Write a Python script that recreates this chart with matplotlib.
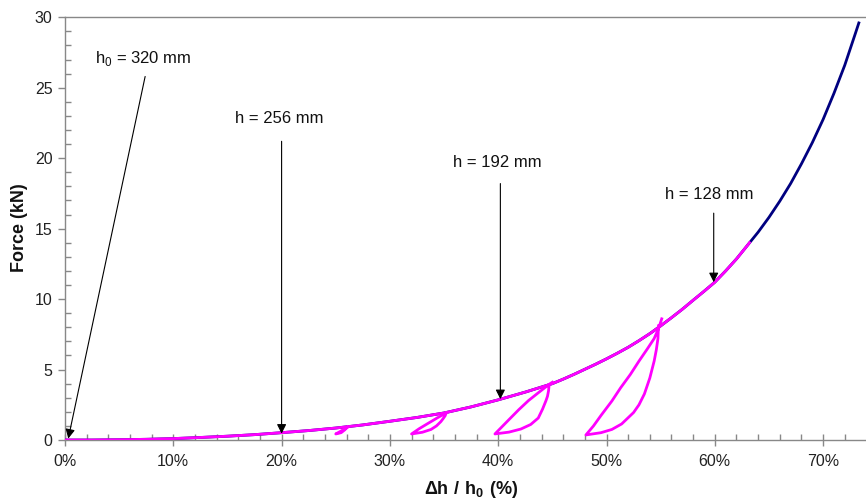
import matplotlib
matplotlib.use("Agg")
import matplotlib.pyplot as plt
from matplotlib.ticker import MultipleLocator, FuncFormatter

plt.rcParams['font.family'] = ['Liberation Sans', 'DejaVu Sans']
plt.rcParams['mathtext.fontset'] = 'custom'
plt.rcParams['mathtext.rm'] = 'Liberation Sans'
plt.rcParams['mathtext.bf'] = 'Liberation Sans:bold'

# Main loading curve (strain %, force kN)
main_strain = [0, 2.5, 5, 7.5, 10, 12.5, 15, 17.5, 20, 22.5, 25, 27.5, 30, 32.5, 35,
               37.5, 40, 42.5, 45, 46, 47, 48, 49, 50, 51, 52, 53, 54, 55, 56, 57, 58,
               59, 60, 61, 62, 63, 64, 65, 66, 67, 68, 69, 70, 71, 72, 73, 73.3]
main_force = [0, 0.0, 0.02, 0.05, 0.1, 0.18, 0.27, 0.38, 0.52, 0.67, 0.85, 1.07, 1.33,
              1.6, 1.92, 2.35, 2.85, 3.4, 4.0, 4.32, 4.66, 5.02, 5.38, 5.76, 6.16, 6.58,
              7.05, 7.55, 8.1, 8.68, 9.28, 9.92, 10.55, 11.2, 12.0, 12.85, 13.8, 14.75,
              15.8, 16.95, 18.2, 19.6, 21.1, 22.75, 24.6, 26.6, 28.9, 29.6]

# Cyclic test (magenta): envelope up to end, plus unload/reload loops
cyc_end_strain = 63.2
cyc_end_force = 14.0

loop1_strain = [26.1, 25.8, 25.5, 25.0, 25.4, 25.8, 26.1]
loop1_force = [0.92, 0.7, 0.52, 0.43, 0.6, 0.78, 0.92]

loop2_strain = [35.2, 35.1, 34.9, 34.7, 34.3, 33.8, 33.0, 32.0, 32.7, 33.5, 34.4, 35.2]
loop2_force = [1.92, 1.72, 1.5, 1.3, 1.0, 0.75, 0.55, 0.43, 0.8, 1.17, 1.58, 1.92]

loop3_strain = [44.7, 44.65, 44.55, 44.4, 44.1, 43.7, 43.0, 42.1, 41.0, 39.7,
                40.3, 41.0, 41.9, 42.8, 43.7, 44.7, 45.0]
loop3_force = [3.9, 3.5, 3.1, 2.77, 2.2, 1.56, 1.1, 0.78, 0.56, 0.43,
               0.9, 1.45, 2.15, 2.8, 3.35, 3.95, 4.1]

loop4_strain = [54.8, 54.75, 54.6, 54.4, 54.0, 53.5, 53.0, 52.5, 51.4, 50.5, 49.5, 48.1,
                48.8, 49.5, 50.5, 51.3, 52.2, 53.0, 53.8, 54.4, 54.8, 55.1]
loop4_force = [8.1, 7.2, 6.4, 5.6, 4.4, 3.27, 2.5, 1.95, 1.14, 0.75, 0.52, 0.36,
               1.0, 1.75, 2.77, 3.7, 4.65, 5.6, 6.5, 7.2, 7.9, 8.6]

# Annotations: label, text position, arrow start, arrow tip
ann_labels = [r"h$_0$ = 320 mm", "h = 256 mm", "h = 192 mm", "h = 128 mm"]
ann_text_x = [2.8, 15.7, 35.8, 55.4]
ann_text_y = [27.1, 22.8, 19.7, 17.4]
ann_start_x = [7.4, 20.0, 40.2, 59.9]
ann_start_y = [25.8, 21.2, 18.2, 16.1]
ann_tip_x = [0.3, 20.0, 40.2, 59.9]
ann_tip_y = [0.1, 0.45, 2.9, 11.2]

W, H = 866, 501
fig = plt.figure(figsize=(W / 100, H / 100), dpi=100)
x0, x1 = 65, 866
y_top, y_bot = 17.3, 440
ax = fig.add_axes([x0 / W, 1 - y_bot / H, (x1 - x0) / W, (y_bot - y_top) / H])

ax.plot(main_strain, main_force, color='#000080', lw=2.0, zorder=3)

env_s = [s for s in main_strain if s < cyc_end_strain] + [cyc_end_strain]
env_f = [f for s, f in zip(main_strain, main_force) if s < cyc_end_strain] + [cyc_end_force]
mag = '#FF00FF'
ax.plot(env_s, env_f, color=mag, lw=2.0, zorder=4)
for ls, lf in [(loop1_strain, loop1_force), (loop2_strain, loop2_force),
               (loop3_strain, loop3_force), (loop4_strain, loop4_force)]:
    ax.plot(ls, lf, color=mag, lw=2.0, zorder=4)

for lab, tx, ty, sx, sy, px, py in zip(ann_labels, ann_text_x, ann_text_y, ann_start_x,
                                       ann_start_y, ann_tip_x, ann_tip_y):
    ax.text(tx, ty, lab, fontsize=12, ha='left', va='center', color='#111111', zorder=6)
    ax.annotate("", xy=(px, py), xytext=(sx, sy),
                arrowprops=dict(arrowstyle='-|>', color='black', lw=0.8,
                                mutation_scale=14, shrinkA=0, shrinkB=0), zorder=6)

ax.set_xlim(0, (x1 - x0) / 10.83)
ax.set_ylim(0, 30)
ax.xaxis.set_major_locator(MultipleLocator(10))
ax.xaxis.set_minor_locator(MultipleLocator(2))
ax.yaxis.set_major_locator(MultipleLocator(5))
ax.yaxis.set_minor_locator(MultipleLocator(1))
ax.xaxis.set_major_formatter(FuncFormatter(lambda v, p: f"{int(round(v))}%"))

spine_c = '#888888'
for side in ['left', 'bottom', 'top']:
    ax.spines[side].set_color(spine_c)
    ax.spines[side].set_linewidth(1.0)
ax.spines['right'].set_visible(False)

ax.tick_params(axis='x', which='major', direction='inout', length=8, width=1,
               color=spine_c, labelsize=11.5, labelcolor='#222222', pad=6)
ax.tick_params(axis='x', which='minor', direction='in', length=4, width=1, color=spine_c)
ax.tick_params(axis='y', which='major', direction='out', length=5, width=1,
               color=spine_c, labelsize=11.5, labelcolor='#222222', pad=4)
ax.tick_params(axis='y', which='minor', direction='in', length=4, width=1, color=spine_c)

fig.text(19.5 / W, 1 - 228 / H, "Force (kN)", rotation=90, ha='center', va='center',
         fontsize=13, fontweight='bold', color='#111111')
fig.text(471 / W, 1 - 489 / H, r"$\mathbf{\Delta h\ /\ h_0\ (\%)}$", ha='center', va='center',
         fontsize=13, color='#111111')

fig.savefig("out.png", dpi=100)
